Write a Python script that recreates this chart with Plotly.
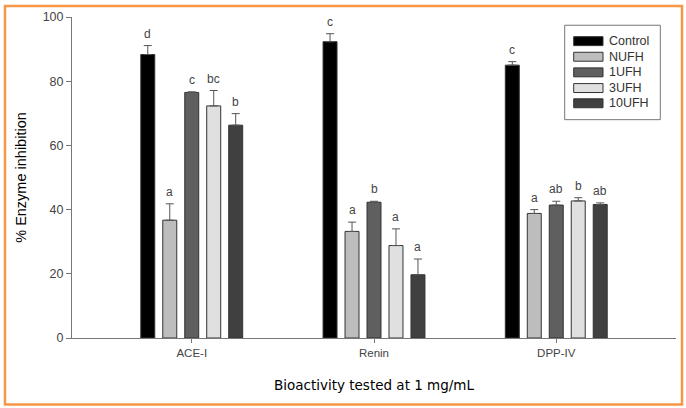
import plotly.graph_objects as go

categories = ["ACE-I", "Renin", "DPP-IV"]
series_names = ["Control", "NUFH", "1UFH", "3UFH", "10UFH"]
colors = ["#000000", "#bdbdbd", "#5f5f5f", "#e0e0e0", "#404040"]

control = [88.3, 92.3, 85.0]
nufh = [36.7, 33.2, 38.8]
ufh1 = [76.5, 42.3, 41.4]
ufh3 = [72.3, 28.8, 42.7]
ufh10 = [66.3, 19.7, 41.6]

control_err = [2.8, 2.5, 1.1]
nufh_err = [5.1, 2.9, 1.2]
ufh1_err = [0.2, 0.3, 1.2]
ufh3_err = [4.8, 5.2, 1.0]
ufh10_err = [3.6, 4.9, 0.5]

control_letters = ["d", "c", "c"]
nufh_letters = ["a", "a", "a"]
ufh1_letters = ["c", "b", "ab"]
ufh3_letters = ["bc", "a", "b"]
ufh10_letters = ["b", "a", "ab"]

y_ticks = [0, 20, 40, 60, 80, 100]

values = [control, nufh, ufh1, ufh3, ufh10]
errors = [control_err, nufh_err, ufh1_err, ufh3_err, ufh10_err]
letters = [control_letters, nufh_letters, ufh1_letters, ufh3_letters, ufh10_letters]

BARGAP = 0.397
BARGROUPGAP = 0.364
n = len(series_names)
slot = (1 - BARGAP) / n

fig = go.Figure()
for j, name in enumerate(series_names):
    fig.add_trace(go.Bar(
        x=categories, y=values[j], name=name,
        marker=dict(color=colors[j], line=dict(color="#333333", width=1)),
        error_y=dict(type="data", array=errors[j], arrayminus=[0] * len(categories),
                     symmetric=False, color="#555555", thickness=1, width=4),
        showlegend=False,
    ))

annotations = []
for j in range(n):
    for i, cat in enumerate(categories):
        annotations.append(dict(
            x=i + (j - (n - 1) / 2) * slot, y=values[j][i] + errors[j][i],
            xref="x", yref="y", text=letters[j][i], showarrow=False,
            yanchor="bottom", yshift=3,
            font=dict(family="Liberation Sans, Arial", size=12, color="#444444"),
        ))

# custom legend (wide swatches)
shapes = []
lx0, lx1 = (573.7 - 72) / 604, (603 - 72) / 604
row_y = [39.3, 55.0, 70.7, 86.5, 101.8]
for j, name in enumerate(series_names):
    yc = (338 - row_y[j]) / 323
    h = 4.5 / 323
    shapes.append(dict(type="rect", xref="paper", yref="paper", x0=lx0, x1=lx1,
                       y0=yc - h, y1=yc + h, fillcolor=colors[j],
                       line=dict(color="#333333", width=1)))
    annotations.append(dict(x=(607 - 72) / 604, y=yc, xref="paper", yref="paper",
                            text=name, showarrow=False, xanchor="left", yanchor="middle",
                            font=dict(family="Liberation Sans, Arial", size=12.5, color="#333333")))
# legend box
shapes.append(dict(type="rect", xref="paper", yref="paper",
                   x0=(564.7 - 72) / 604, x1=(660.3 - 72) / 604,
                   y0=(338 - 118.3) / 323, y1=(338 - 23.3) / 323,
                   line=dict(color="#777777", width=1), fillcolor="rgba(0,0,0,0)"))
# orange frame
shapes.append(dict(type="rect", xref="paper", yref="paper",
                   x0=(5 - 72) / 604, x1=(682 - 72) / 604,
                   y0=(338 - 405) / 323, y1=(338 - 4) / 323,
                   line=dict(color="#f79646", width=2.5), fillcolor="rgba(0,0,0,0)"))

fig.update_layout(
    width=686, height=408,
    margin=dict(l=72, r=10, t=15, b=70),
    paper_bgcolor="white", plot_bgcolor="white",
    barmode="group", bargap=BARGAP, bargroupgap=BARGROUPGAP,
    shapes=shapes, annotations=annotations,
    xaxis=dict(type="category", range=[-0.657, 2.657], showline=True, linecolor="#777777",
               linewidth=1, ticks="outside", ticklen=4, tickcolor="#777777",
               tickfont=dict(family="Liberation Sans, Arial", size=11.5, color="#444444"),
               title=dict(text="Bioactivity tested at 1 mg/mL", standoff=22,
                          font=dict(family="DejaVu Sans", size=13.5, color="#000000"))),
    yaxis=dict(range=[0, 100], tickvals=y_ticks, showline=True, linecolor="#777777",
               linewidth=1, ticks="outside", ticklen=5, tickcolor="#777777", showgrid=False,
               zeroline=False,
               tickfont=dict(family="Liberation Sans, Arial", size=12.5, color="#444444"),
               title=dict(text="% Enzyme inhibition", standoff=12,
                          font=dict(family="Liberation Sans, Arial", size=14.5, color="#000000"))),
)

fig.write_html("out.html", config={"displayModeBar": False},
               post_script="document.body.style.margin='0';")
